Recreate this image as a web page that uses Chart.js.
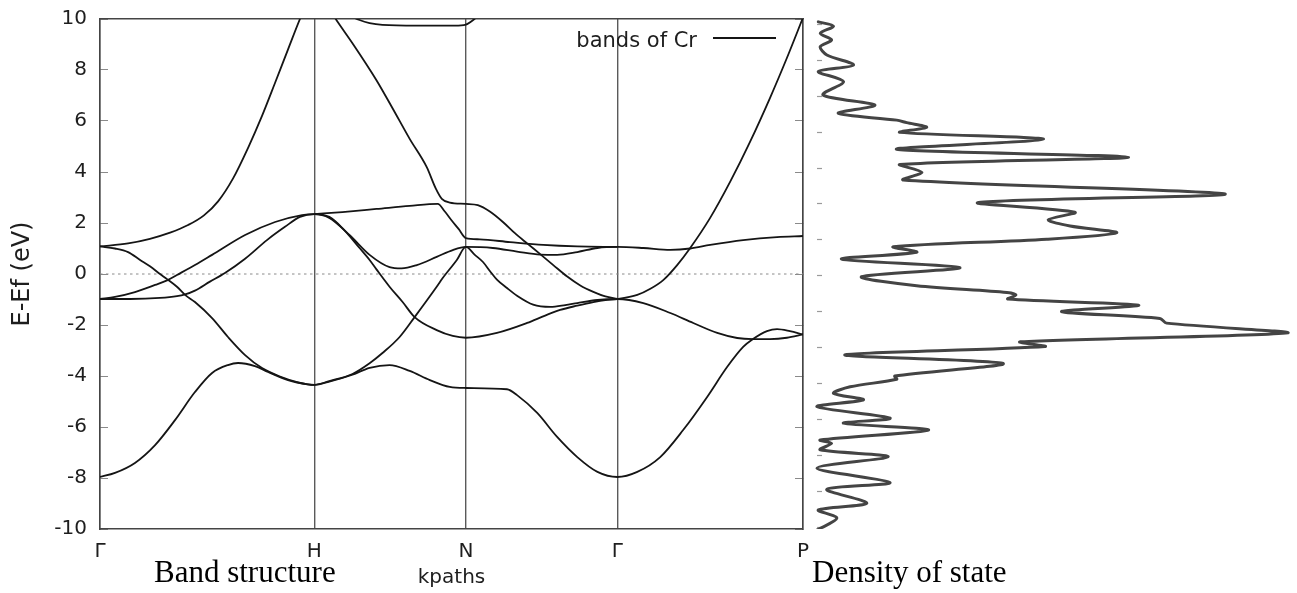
<!DOCTYPE html>
<html>
<head>
<meta charset="utf-8">
<script src="https://cdn.jsdelivr.net/npm/chart.js@4.4.0/dist/chart.umd.min.js"></script>
<style>
  html, body { margin: 0; padding: 0; background: #fff; }
  #wrap { position: relative; width: 1297px; height: 593px; overflow: hidden; background: #fff; }
  #bands { position: absolute; left: 0; top: 0; }
  #dos { position: absolute; left: 800px; top: 0; }
  .cap { position: absolute; font-family: "Liberation Serif", "Times New Roman", serif; font-size: 31px; line-height: 31px; color: #000; white-space: nowrap; }
</style>
</head>
<body>
<div id="wrap">
  <canvas id="bands" width="812" height="593"></canvas>
  <canvas id="dos" width="497" height="593"></canvas>
  <div class="cap" style="left:154px;top:556px">Band structure</div>
  <div class="cap" style="left:812px;top:556px">Density of state</div>
</div>
<script>
// ---------- data ----------
const kTicks = [0, 1, 1.7071, 2.4142, 3.2802];
const kLabels = ['Γ', 'H', 'N', 'Γ', 'P'];
const energyRange = [-10, 10];
const legendLabel = 'bands of Cr';

// bands: [k (2π/a path length), E - Ef (eV)]
const band1 = [[0,-7.96],[0.070,-7.80],[0.163,-7.41],[0.257,-6.71],[0.350,-5.73],[0.443,-4.63],[0.523,-3.88],[0.597,-3.57],[0.644,-3.49],[0.723,-3.61],[0.784,-3.84],[0.877,-4.16],[0.971,-4.33],[1.0,-4.35],
  [1.070,-4.22],[1.178,-3.95],[1.258,-3.68],[1.351,-3.57],[1.445,-3.80],[1.539,-4.16],[1.632,-4.43],[1.707,-4.47],
  [1.899,-4.52],[1.946,-4.75],[2.040,-5.45],[2.133,-6.39],[2.227,-7.18],[2.321,-7.76],[2.414,-7.96],
  [2.507,-7.76],[2.614,-7.18],[2.721,-6.12],[2.833,-4.82],[2.926,-3.65],[3.001,-2.86],[3.047,-2.55],[3.112,-2.24],[3.159,-2.16],[3.219,-2.24],[3.280,-2.37]];
const band2 = [[0,1.08],[0.070,1.00],[0.131,0.86],[0.187,0.55],[0.233,0.30],[0.280,0.00],[0.313,-0.20],[0.359,-0.50],[0.397,-0.82],[0.443,-1.10],[0.523,-1.73],[0.597,-2.47],[0.677,-3.18],[0.756,-3.69],[0.840,-4.02],[0.924,-4.25],[1.0,-4.35],
  [1.070,-4.20],[1.178,-3.92],[1.258,-3.50],[1.318,-3.10],[1.398,-2.47],[1.468,-1.69],[1.571,-0.50],[1.599,-0.16],[1.665,0.55],[1.707,1.06],
  [1.749,0.75],[1.787,0.47],[1.819,0.12],[1.852,-0.22],[1.899,-0.55],[1.946,-0.85],[2.021,-1.20],[2.101,-1.29],[2.171,-1.22],[2.227,-1.14],[2.321,-1.02],[2.414,-0.98],
  [2.535,-1.14],[2.661,-1.53],[2.768,-1.92],[2.880,-2.31],[2.973,-2.51],[3.047,-2.55],[3.126,-2.55],[3.205,-2.50],[3.280,-2.37]];
const band3 = [[0,-0.98],[0.140,-0.98],[0.280,-0.94],[0.359,-0.87],[0.397,-0.80],[0.443,-0.65],[0.513,-0.30],[0.583,0.04],[0.677,0.60],[0.779,1.33],[0.863,1.85],[0.933,2.24],[1.0,2.35],
  [1.070,2.24],[1.131,1.80],[1.211,1.02],[1.258,0.55],[1.290,0.18],[1.351,-0.50],[1.412,-1.10],[1.468,-1.69],[1.571,-2.20],[1.646,-2.43],[1.707,-2.50],
  [1.852,-2.31],[1.993,-1.92],[2.077,-1.63],[2.147,-1.41],[2.227,-1.24],[2.302,-1.10],[2.358,-1.02],[2.414,-0.98],
  [2.507,-0.82],[2.568,-0.58],[2.628,-0.24],[2.693,0.35],[2.754,1.02],[2.847,2.20],[2.940,3.61],[3.033,5.18],[3.126,6.90],[3.205,8.47],[3.280,10.05]];
const band4 = [[0,-0.98],[0.070,-0.90],[0.163,-0.71],[0.257,-0.43],[0.313,-0.25],[0.359,-0.04],[0.443,0.35],[0.523,0.75],[0.677,1.53],[0.817,2.04],[0.943,2.31],[1.0,2.35],
  [1.070,2.20],[1.164,1.53],[1.258,0.75],[1.351,0.27],[1.407,0.22],[1.478,0.35],[1.571,0.67],[1.646,0.94],[1.707,1.06],
  [1.833,1.02],[1.946,0.88],[2.054,0.76],[2.133,0.75],[2.227,0.86],[2.321,1.02],[2.414,1.06],
  [2.535,1.02],[2.661,0.95],[2.754,1.00],[2.847,1.14],[3.001,1.33],[3.159,1.45],[3.280,1.49]];
const band5 = [[0,1.08],[0.131,1.20],[0.233,1.38],[0.327,1.62],[0.411,1.92],[0.485,2.30],[0.551,2.85],[0.621,3.75],[0.691,4.95],[0.756,6.20],[0.817,7.50],[0.877,8.80],[0.933,10.00],[1.0,11.30],
  [1.047,10.70],[1.103,9.96],[1.178,9.05],[1.290,7.60],[1.365,6.50],[1.445,5.30],[1.524,4.20],[1.567,3.35],[1.595,2.95],[1.632,2.80],[1.707,2.75],
  [1.763,2.70],[1.819,2.45],[1.880,2.04],[1.936,1.60],[1.993,1.20],[2.054,0.78],[2.115,0.35],[2.180,-0.10],[2.241,-0.45],[2.302,-0.70],[2.358,-0.88],[2.414,-0.98]];
const band6 = [[1.0,2.35],[1.131,2.43],[1.290,2.55],[1.445,2.67],[1.576,2.75],[1.609,2.45],[1.641,2.10],[1.674,1.76],[1.707,1.41],
  [1.772,1.36],[1.913,1.25],[2.068,1.14],[2.227,1.08],[2.414,1.06]];
const band7 = [[1.117,10.45],[1.164,10.15],[1.211,9.96],[1.258,9.84],[1.318,9.77],[1.478,9.74],[1.656,9.74],[1.707,9.78],[1.735,9.92],[1.754,10.05],[1.796,10.5]];
const fermiLevel = [[0,0],[3.2802,0]];

// density of states: energy (own axis, eV) and DOS value
const dosEnergy = [7.06,6.94,6.74,6.56,6.37,6.14,5.86,5.68,5.40,5.03,4.75,4.52,4.33,4.26,4.13,3.99,3.80,3.52,3.30,3.10,2.88,2.67,2.28,2.04,1.77,1.56,1.39,1.20,1.02,0.81,0.66,0.47,0.23,-0.02,-0.27,-0.46,-0.53,-0.64,-0.81,-0.99,-1.18,-1.31,-1.58,-1.83,-1.96,-2.19,-2.43,-2.78,-2.87,-3.08,-3.26,-3.44,-3.63,-3.95,-4.09,-4.28,-4.56,-4.65,-4.83,-5.02,-5.34,-5.74,-5.93,-6.31,-6.50,-6.73,-7.06];
const dosValue  = [0.07,0.39,0.11,0.35,0.11,0.25,0.81,0.07,0.60,0.17,1.26,0.49,1.72,1.93,2.35,1.79,4.81,1.72,6.60,1.79,2.25,1.86,8.63,3.44,5.47,4.91,5.37,6.35,4.88,1.65,2.14,0.56,3.05,0.98,2.14,4.04,4.23,4.06,6.81,5.19,7.26,7.40,9.96,4.32,4.84,0.63,3.96,1.68,1.72,0.74,0.39,1.02,0.04,1.58,0.60,2.39,0.11,0.35,0.11,1.54,0.04,1.58,0.25,1.09,0.07,0.46,0.04];
const dosEnergyRange = [-7.03, 7.14];
const dosValueRange = [0, 10.02];

// ---------- styles ----------
const TEXT = '#1e1e1e';
const LINE = '#151515';
const FONT = '"DejaVu Sans", sans-serif';
Chart.defaults.font.family = FONT;
Chart.defaults.color = TEXT;

const insideLegend = {
  id: 'insideLegend',
  afterDatasetsDraw(chart) {
    const { ctx, chartArea: a } = chart;
    ctx.save();
    ctx.font = '21px ' + FONT;
    ctx.fillStyle = TEXT;
    ctx.textAlign = 'right';
    ctx.textBaseline = 'alphabetic';
    ctx.fillText(legendLabel, a.right - 106, a.top + 28);
    ctx.strokeStyle = LINE;
    ctx.lineWidth = 1.8;
    ctx.beginPath();
    ctx.moveTo(a.right - 90, a.top + 19);
    ctx.lineTo(a.right - 27, a.top + 19);
    ctx.stroke();
    ctx.restore();
  }
};

const bandSets = [band1, band2, band3, band4, band5, band6, band7].map(b => ({
  label: legendLabel,
  data: b.map(p => ({ x: p[0], y: p[1] })),
  borderColor: LINE,
  borderWidth: 1.8,
  pointRadius: 0,
  fill: false,
  cubicInterpolationMode: 'monotone'
}));
bandSets.push({
  label: 'Ef',
  data: fermiLevel.map(p => ({ x: p[0], y: p[1] })),
  borderColor: '#8a8a8a',
  borderWidth: 1,
  borderDash: [2.5, 3.5],
  pointRadius: 0,
  tension: 0
});

const axisFont = { family: FONT, size: 20 };
const kMin = kTicks[0], kMax = kTicks[kTicks.length - 1];
const noPad = s => { s.paddingLeft = 0; s.paddingRight = 0; s.paddingTop = 0; s.paddingBottom = 0; };

new Chart(document.getElementById('bands'), {
  type: 'line',
  data: { datasets: bandSets },
  options: {
    responsive: false, animation: false, devicePixelRatio: 1, events: [],
    layout: { padding: { left: 0, right: 9, top: 19, bottom: 0 } },
    plugins: { legend: { display: false }, tooltip: { enabled: false } },
    scales: {
      x: {
        type: 'linear', position: 'bottom', min: kMin, max: kMax,
        afterBuildTicks: s => { s.ticks = kTicks.map(v => ({ value: v })); },
        afterFit: s => { s.height = 64; noPad(s); },
        grid: { color: '#5a5a5a', lineWidth: 1.4, drawTicks: false, drawOnChartArea: true },
        border: { display: true, color: '#444', width: 1.5 },
        ticks: { autoSkip: false, maxRotation: 0, padding: 11, font: axisFont, color: TEXT, callback: (v, i) => kLabels[i] },
        title: { display: true, text: 'kpaths', font: axisFont, color: TEXT, padding: { top: 0, bottom: 3 } }
      },
      x2: {
        type: 'linear', axis: 'x', position: 'top', min: kMin, max: kMax,
        afterFit: s => { s.height = 0; noPad(s); },
        grid: { display: false }, ticks: { display: false },
        border: { display: true, color: '#444', width: 1.5 }
      },
      y: {
        type: 'linear', position: 'left', min: energyRange[0], max: energyRange[1],
        afterFit: s => { s.width = 100; noPad(s); },
        ticks: { stepSize: 2, padding: 21, font: axisFont, color: TEXT },
        grid: { drawOnChartArea: false, drawTicks: true, tickLength: -8, tickColor: '#8a8a8a', tickWidth: 1 },
        border: { display: true, color: '#444', width: 1.5 },
        title: { display: true, text: 'E-Ef (eV)', font: { family: FONT, size: 24 }, color: TEXT, padding: { top: 8, bottom: 0 } }
      },
      y2: {
        type: 'linear', axis: 'y', position: 'right', min: energyRange[0], max: energyRange[1],
        afterFit: s => { s.width = 0; noPad(s); },
        ticks: { display: false, stepSize: 2 },
        grid: { drawOnChartArea: false, drawTicks: true, tickLength: -8, tickColor: '#8a8a8a', tickWidth: 1 },
        border: { display: true, color: '#444', width: 1.5 }
      }
    }
  },
  plugins: [insideLegend]
});

new Chart(document.getElementById('dos'), {
  type: 'scatter',
  data: {
    datasets: [{
      label: 'Density of state',
      data: dosValue.map((v, i) => ({ x: v, y: dosEnergy[i] })),
      showLine: true,
      borderColor: '#444',
      borderWidth: 3,
      borderJoinStyle: 'round',
      borderCapStyle: 'round',
      pointRadius: 0,
      tension: 0.3
    }]
  },
  options: {
    responsive: false, animation: false, devicePixelRatio: 1, events: [],
    layout: { padding: { left: 15, right: 6, top: 19, bottom: 64 } },
    plugins: { legend: { display: false }, tooltip: { enabled: false } },
    scales: {
      x: { type: 'linear', min: dosValueRange[0], max: dosValueRange[1], display: false },
      y: {
        type: 'linear', min: dosEnergyRange[0], max: dosEnergyRange[1], position: { x: 0.147 },
        ticks: { display: false, stepSize: 1, includeBounds: false },
        grid: { drawOnChartArea: false, drawTicks: true, tickLength: 5, tickColor: '#9a9a9a', tickWidth: 1.2 },
        border: { display: false }
      }
    }
  }
});
</script>
</body>
</html>
